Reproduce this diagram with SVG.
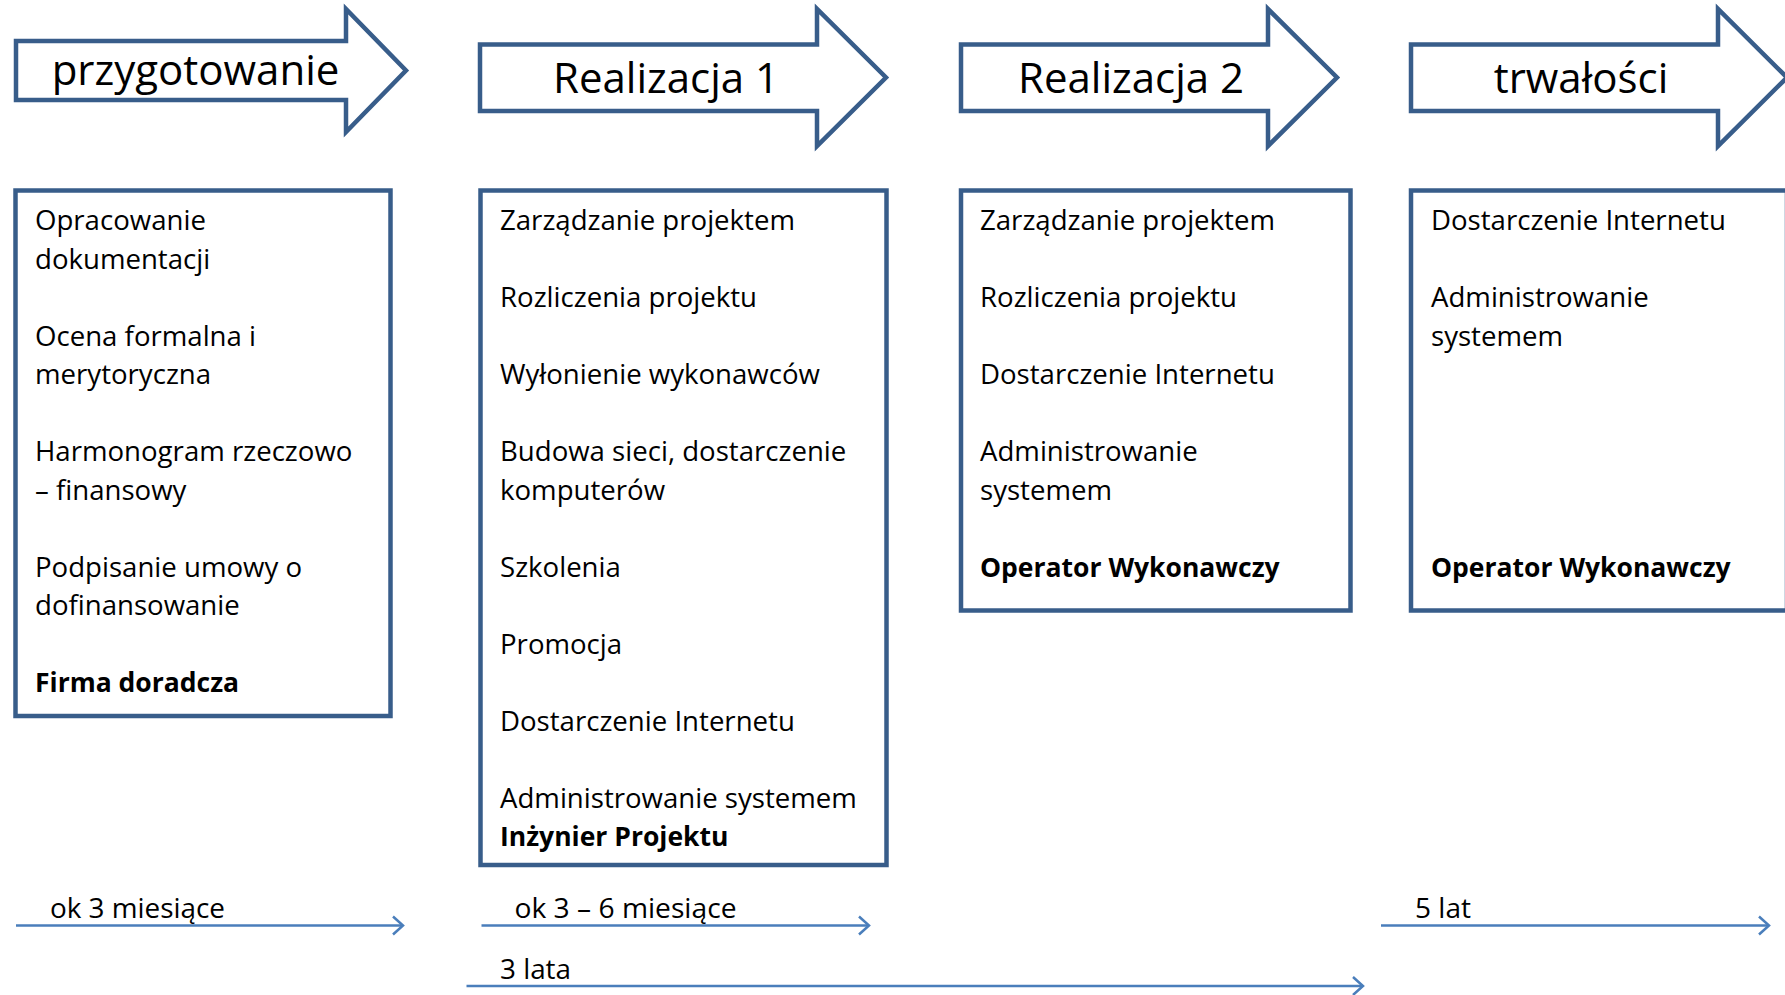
<svg xmlns="http://www.w3.org/2000/svg" width="1785" height="995" viewBox="0 0 1785 995">
<style>
.big{fill:#fff;stroke:#385D8A;stroke-width:4.5;stroke-linejoin:miter}
.box{fill:#fff;stroke:#385D8A;stroke-width:4.5}
.h{font-family:"Open Sans",Lato,sans-serif;font-size:42px;fill:#000;text-anchor:middle}
.t{font-family:"Open Sans",Lato,sans-serif;font-size:27.6px;fill:#000}
.b{font-weight:bold;font-size:26.5px}
.lbl{font-family:"Open Sans",Lato,sans-serif;font-size:28px;fill:#000}
.ln{stroke:#4A7EBB;stroke-width:2.5;fill:none}
</style>
<defs>
<marker id="chev" markerUnits="userSpaceOnUse" markerWidth="24" markerHeight="24" viewBox="-12 -12 24 24" refX="0" refY="0" orient="auto">
<polyline points="-10,-9 0,0 -10,9" fill="none" stroke="#4A7EBB" stroke-width="2.5"/>
</marker>
</defs>
<g id="phase-przygotowanie">
<polygon class="big" points="16,41 346,41 346,9 406,70.5 346,132 346,100 16,100"/>
<text class="h" x="195.5" y="85">przygotowanie</text>
</g>
<g id="phase-realizacja1">
<polygon class="big" points="480,44.5 817,44.5 817,9 886,77.5 817,146 817,111 480,111"/>
<text class="h" x="666" y="93">Realizacja 1</text>
</g>
<g id="phase-realizacja2">
<polygon class="big" points="961,44.5 1268,44.5 1268,9 1337,77.5 1268,146 1268,111 961,111"/>
<text class="h" x="1131" y="93">Realizacja 2</text>
</g>
<g id="phase-trwalosci">
<polygon class="big" points="1411,44.5 1718,44.5 1718,9 1787,77.5 1718,146 1718,111 1411,111"/>
<text class="h" x="1581" y="93">trwałości</text>
</g>
<g id="box-przygotowanie">
<rect class="box" x="15.5" y="190.5" width="375" height="525.5"/>
<text class="t" x="35" y="230">Opracowanie</text>
<text class="t" x="35" y="268.5">dokumentacji</text>
<text class="t" x="35" y="345.5">Ocena formalna i</text>
<text class="t" x="35" y="384">merytoryczna</text>
<text class="t" x="35" y="461">Harmonogram rzeczowo</text>
<text class="t" x="35" y="499.5">– finansowy</text>
<text class="t" x="35" y="576.5">Podpisanie umowy o</text>
<text class="t" x="35" y="615">dofinansowanie</text>
<text class="t b" x="35" y="692">Firma doradcza</text>
</g>
<g id="box-realizacja1">
<rect class="box" x="480.5" y="190.5" width="406" height="674.5"/>
<text class="t" x="500" y="230">Zarządzanie projektem</text>
<text class="t" x="500" y="307">Rozliczenia projektu</text>
<text class="t" x="500" y="384">Wyłonienie wykonawców</text>
<text class="t" x="500" y="461">Budowa sieci, dostarczenie</text>
<text class="t" x="500" y="499.5">komputerów</text>
<text class="t" x="500" y="576.5">Szkolenia</text>
<text class="t" x="500" y="653.5">Promocja</text>
<text class="t" x="500" y="730.5">Dostarczenie Internetu</text>
<text class="t" x="500" y="807.5">Administrowanie systemem</text>
<text class="t b" x="500" y="846">Inżynier Projektu</text>
</g>
<g id="box-realizacja2">
<rect class="box" x="961" y="190.5" width="389.5" height="420"/>
<text class="t" x="980" y="230">Zarządzanie projektem</text>
<text class="t" x="980" y="307">Rozliczenia projektu</text>
<text class="t" x="980" y="384">Dostarczenie Internetu</text>
<text class="t" x="980" y="461">Administrowanie</text>
<text class="t" x="980" y="499.5">systemem</text>
<text class="t b" x="980" y="576.5">Operator Wykonawczy</text>
</g>
<g id="box-trwalosci">
<rect class="box" x="1411" y="190.5" width="376" height="420"/>
<text class="t" x="1431" y="230">Dostarczenie Internetu</text>
<text class="t" x="1431" y="307">Administrowanie</text>
<text class="t" x="1431" y="345.5">systemem</text>
<text class="t b" x="1431" y="576.5">Operator Wykonawczy</text>
</g>
<g id="connectors">
<line class="ln" x1="16" y1="925.5" x2="403" y2="925.5" marker-end="url(#chev)"/>
<line class="ln" x1="481.5" y1="925.5" x2="869" y2="925.5" marker-end="url(#chev)"/>
<line class="ln" x1="466.5" y1="986" x2="1363" y2="986" marker-end="url(#chev)"/>
<line class="ln" x1="1381" y1="925.5" x2="1769" y2="925.5" marker-end="url(#chev)"/>
</g>
<g id="labels">
<text class="lbl" x="50" y="918" textLength="175" lengthAdjust="spacingAndGlyphs">ok 3 miesiące</text>
<text class="lbl" x="514.5" y="918" textLength="222" lengthAdjust="spacingAndGlyphs">ok 3 – 6 miesiące</text>
<text class="lbl" x="500" y="979" textLength="71" lengthAdjust="spacingAndGlyphs">3 lata</text>
<text class="lbl" x="1415" y="918" textLength="56" lengthAdjust="spacingAndGlyphs">5 lat</text>
</g>
</svg>
